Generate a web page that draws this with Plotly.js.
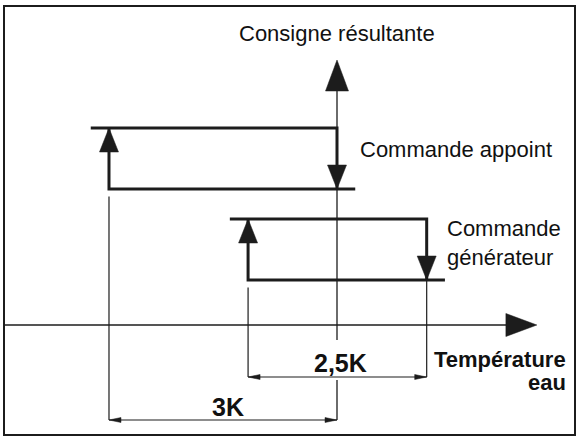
<!DOCTYPE html>
<html>
<head>
<meta charset="utf-8">
<script src="https://cdn.plot.ly/plotly-3.0.1.min.js"></script>
<style>
  html, body { margin: 0; padding: 0; background: #fff; }
  #chart { width: 579px; height: 437px; }
</style>
</head>
<body>
<div id="chart"></div>
<script>
// hysteresis loops, temperature offset from the setpoint (K)
const loopLabels = ["Commande appoint", "Commande\ngénérateur"];
const switchOnK = [-3.0, -1.17];
const switchOffK = [0.0, 1.18];
// command level (schematic units) of each loop
const levelHigh = [19.7, 10.6];
const levelLow = [13.6, 4.5];
// dimension labels and the level where each one is drawn
const dimLabels = ["3K", "2,5K"];
const dimLevel = [-9.5, -5.2];
// axes ends
const setpointK = 0;
const axisTipK = 2.63;
const consigneTip = 26.5;

const xRange = [-4.434, 3.184];
const yRange = [-11.2, 32.5];

const ink = "#1c1c1c";
const EXT = 0.24; // overhang of the loop lines

let traces = [];
let shapes = [];
let annotations = [];

function addLine(x, y, width) {
    traces.push({ x: x, y: y, type: "scatter", mode: "lines", hoverinfo: "skip",
        line: { color: ink, width: width } });
}

function addHead(x, y, dir, w, l) {
    let h = w / 2, p;
    if (dir == "up") p = "M0,0 L" + (-h) + "," + (-l) + " L" + h + "," + (-l) + " Z";
    else if (dir == "down") p = "M0,0 L" + (-h) + "," + l + " L" + h + "," + l + " Z";
    else if (dir == "right") p = "M0,0 L" + (-l) + "," + h + " L" + (-l) + "," + (-h) + " Z";
    else p = "M0,0 L" + l + "," + h + " L" + l + "," + (-h) + " Z";
    shapes.push({ type: "path", xref: "x", yref: "y", xsizemode: "pixel", ysizemode: "pixel",
        xanchor: x, yanchor: y, path: p, fillcolor: ink, line: { color: ink, width: 0.5 } });
}

function addText(text, x, y, size, bold, xanchor, extra) {
    let a = { text: bold ? "<b>" + text + "</b>" : text, x: x, y: y, xref: "x", yref: "y",
        showarrow: false, xanchor: xanchor, yanchor: "middle", align: xanchor,
        font: { family: "Arial, Liberation Sans, sans-serif", size: size, color: "#111" } };
    Object.assign(a, extra || {});
    annotations.push(a);
}

// horizontal axis (water temperature) and vertical axis (resulting setpoint)
addLine([xRange[0] + 0.06, axisTipK - 0.3], [0, 0], 1.6);
addHead(axisTipK, 0, "right", 23, 31);
addLine([setpointK, setpointK], [consigneTip - 1, -1.5], 1.3);
addLine([setpointK, setpointK], [-5.5, dimLevel[0]], 1.3);
addHead(setpointK, consigneTip, "up", 23, 31);

// the two loops
for (let i = 0; i < switchOnK.length; i++) {
    let on = switchOnK[i], off = switchOffK[i], hi = levelHigh[i], lo = levelLow[i];
    addLine([on - EXT, off, off], [hi, hi, lo], 3);
    addLine([off + EXT, on, on], [lo, lo, hi], 3);
    addHead(on, hi, "up", 19, 24);
    addHead(off, lo, "down", 19, 24);

    // dimension lines
    let d = dimLevel[i];
    addLine([on, on], [lo - 0.75, d], 1.2);
    if (off != setpointK) addLine([off, off], [lo, d], 1.2);
    addLine([on, off], [d, d], 1.2);
    addHead(on, d, "left", 5, 12);
    addHead(off, d, "right", 5, 12);
}

// labels
addText("Consigne résultante", setpointK, 29.2, 22, false, "center");
addText(loopLabels[0], 0.28, 17.6, 22, false, "left");
addText(loopLabels[1].replace("\n", "<br>"), 1.42, 8.2, 22, false, "left");
addText("Température", 3.04, -3.4, 22, true, "right");
addText("eau", 3.04, -5.7, 22, true, "right");
addText(dimLabels[0], -1.43, -8.2, 25, true, "center");
addText(dimLabels[1], 0.04, -3.8, 25, true, "center");

// frame round the picture
shapes.push({ type: "rect", xref: "paper", yref: "paper", x0: 4 / 579, x1: 575 / 579,
    y0: 1 - 435 / 437, y1: 1 - 6 / 437, line: { color: ink, width: 2 }, layer: "above" });

let layout = {
    width: 579, height: 437,
    margin: { l: 0, r: 0, t: 0, b: 0 },
    paper_bgcolor: "#fff", plot_bgcolor: "#fff",
    showlegend: false,
    xaxis: { range: xRange, visible: false, fixedrange: true },
    yaxis: { range: yRange, visible: false, fixedrange: true },
    shapes: shapes,
    annotations: annotations
};

Plotly.newPlot("chart", traces, layout, { staticPlot: true, displayModeBar: false });
</script>
</body>
</html>
